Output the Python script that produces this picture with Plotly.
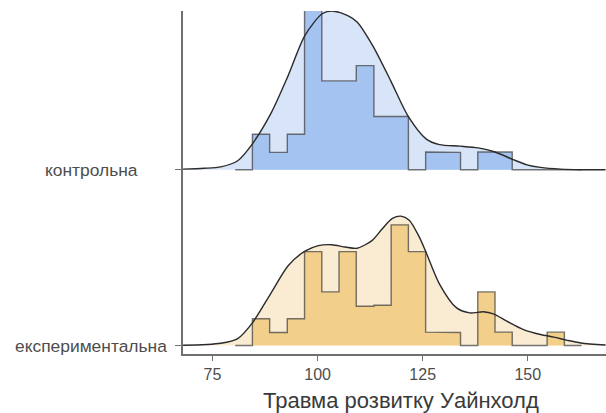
import plotly.graph_objects as go

# ---------------- data ----------------
groups = ["контрольна", "експериментальна"]
group_pos = [2, 1]  # ridge baselines

bin_edges = [80.4, 84.5, 88.6, 92.8, 96.9, 101.0, 105.1, 109.2, 113.4, 117.5,
             121.6, 125.7, 129.8, 134.0, 138.1, 142.2, 146.3, 150.4, 154.6,
             158.7, 162.8]

counts_control = [0, 2, 1, 2, 9, 5, 5, 6, 3, 3, 0, 1, 1, 0, 1, 1, 0, 0, 0, 0]
counts_exper = [0, 2, 1, 2, 7, 4, 7, 3, 3, 9, 7, 1, 1, 0, 4, 1, 0, 0, 1, 0]

dens_x_control = [68.0, 73.0, 77.0, 81.0, 84.5, 89.0, 93.0, 97.0, 101.2, 103.8,
                  107.4, 109.4, 113.3, 117.4, 121.6, 125.8, 129.0, 133.8, 138.2,
                  142.2, 146.5, 149.8, 153.0, 157.8, 162.6, 168.5]
dens_y_control = [0.0002, 0.0005, 0.0010, 0.0031, 0.0089, 0.0196, 0.0323, 0.0461,
                  0.0536, 0.0544, 0.0527, 0.0507, 0.0421, 0.0305, 0.0182, 0.0106,
                  0.0086, 0.0081, 0.0075, 0.0061, 0.0035, 0.0017, 0.0008, 0.0002,
                  0.0, 0.0]

dens_x_exper = [68.0, 77.0, 81.0, 84.5, 89.0, 93.0, 97.0, 100.2, 103.4, 106.6,
                109.4, 113.0, 115.4, 117.8, 119.8, 121.8, 124.2, 125.8, 129.0,
                133.0, 136.2, 139.4, 141.8, 145.0, 149.0, 153.0, 156.2, 159.4,
                162.6, 168.5]
dens_y_exper = [0.0001, 0.0008, 0.0024, 0.0078, 0.0182, 0.0274, 0.0324, 0.0343,
                0.0346, 0.0338, 0.0334, 0.0361, 0.0401, 0.0436, 0.0444, 0.0430,
                0.0372, 0.0320, 0.0211, 0.0130, 0.0112, 0.0116, 0.0109, 0.0084,
                0.0055, 0.0038, 0.0029, 0.0018, 0.0009, 0.0002]

x_ticks = [75, 100, 125, 150]
x_title = "Травма розвитку Уайнхолд"

# ---------------- style ----------------
SCALE = 16.58  # ridge height per unit density
styles = [
    dict(dens_fill="#d8e5f8", hist_fill="#a5c3f0"),
    dict(dens_fill="#faebd3", hist_fill="#f2cf8a"),
]
hist_line = "rgba(60,60,60,0.7)"
dens_line = "#2b2b2b"

fig = go.Figure()

datasets = [
    (counts_control, dens_x_control, dens_y_control),
    (counts_exper, dens_x_exper, dens_y_exper),
]

for (counts, dx, dy), base, st in zip(datasets, group_pos, styles):
    n = sum(counts)
    # density fill
    fig.add_trace(go.Scatter(x=dx, y=[base] * len(dx), mode="lines",
                             line=dict(width=0, color="rgba(0,0,0,0)"),
                             hoverinfo="skip", showlegend=False))
    fig.add_trace(go.Scatter(x=dx, y=[base + v * SCALE for v in dy], mode="lines",
                             line=dict(width=0, shape="spline", smoothing=0.8,
                                       color="rgba(0,0,0,0)"),
                             fill="tonexty", fillcolor=st["dens_fill"],
                             hoverinfo="skip", showlegend=False))
    # histogram (step outline)
    hx, hy = [bin_edges[0]], [base]
    for i, c in enumerate(counts):
        w = bin_edges[i + 1] - bin_edges[i]
        h = base + c / (n * w) * SCALE
        hx += [bin_edges[i], bin_edges[i + 1]]
        hy += [h, h]
    hx.append(bin_edges[-1])
    hy.append(base)
    fig.add_trace(go.Scatter(x=hx, y=hy, mode="lines", fill="toself",
                             fillcolor=st["hist_fill"],
                             line=dict(width=1.4, color=hist_line),
                             hoverinfo="skip", showlegend=False))
    # density line
    fig.add_trace(go.Scatter(x=dx, y=[base + v * SCALE for v in dy], mode="lines",
                             line=dict(width=1.4, shape="spline", smoothing=0.8,
                                       color=dens_line),
                             hoverinfo="skip", showlegend=False))

axis_col = "#707070"
fig.update_layout(
    width=606, height=413,
    margin=dict(l=182.5, r=0, t=11, b=58.6),
    paper_bgcolor="white", plot_bgcolor="white",
    showlegend=False,
    hovermode=False,
    xaxis=dict(range=[67.99, 168.6], tickvals=x_ticks, ticks="outside",
               ticklen=5, tickwidth=1.3, tickcolor=axis_col,
               showline=True, linecolor=axis_col, linewidth=1.5,
               showgrid=False, zeroline=False,
               tickfont=dict(family="Liberation Sans, Arial", size=16,
                             color="#4d4d4d")),
    yaxis=dict(range=[0.952, 2.903], tickvals=group_pos, ticktext=["", ""],
               ticks="outside", ticklen=6, tickwidth=1.3, tickcolor=axis_col,
               showline=True, linecolor=axis_col, linewidth=1.5,
               showgrid=False, zeroline=False),
)

for g, p in zip(groups, group_pos):
    fig.add_annotation(text=g, x=(90.5 - 182.5) / 423.5, xref="paper",
                       y=p, yref="y", xanchor="center", yanchor="middle",
                       showarrow=False,
                       font=dict(family="Liberation Sans, Arial", size=17.4,
                                 color="#4d4d4d"))

fig.add_annotation(text=x_title, x=(401 - 182.5) / 423.5, xref="paper",
                   y=(354.4 - 401) / 343.4, yref="paper",
                   xanchor="center", yanchor="middle", showarrow=False,
                   font=dict(family="Liberation Sans, Arial", size=22,
                             color="#3a3a3a"))

fig.write_html("out.html",
               config={"displayModeBar": False},
               post_script="document.body.style.margin='0';"
                           "document.body.style.padding='0';")
